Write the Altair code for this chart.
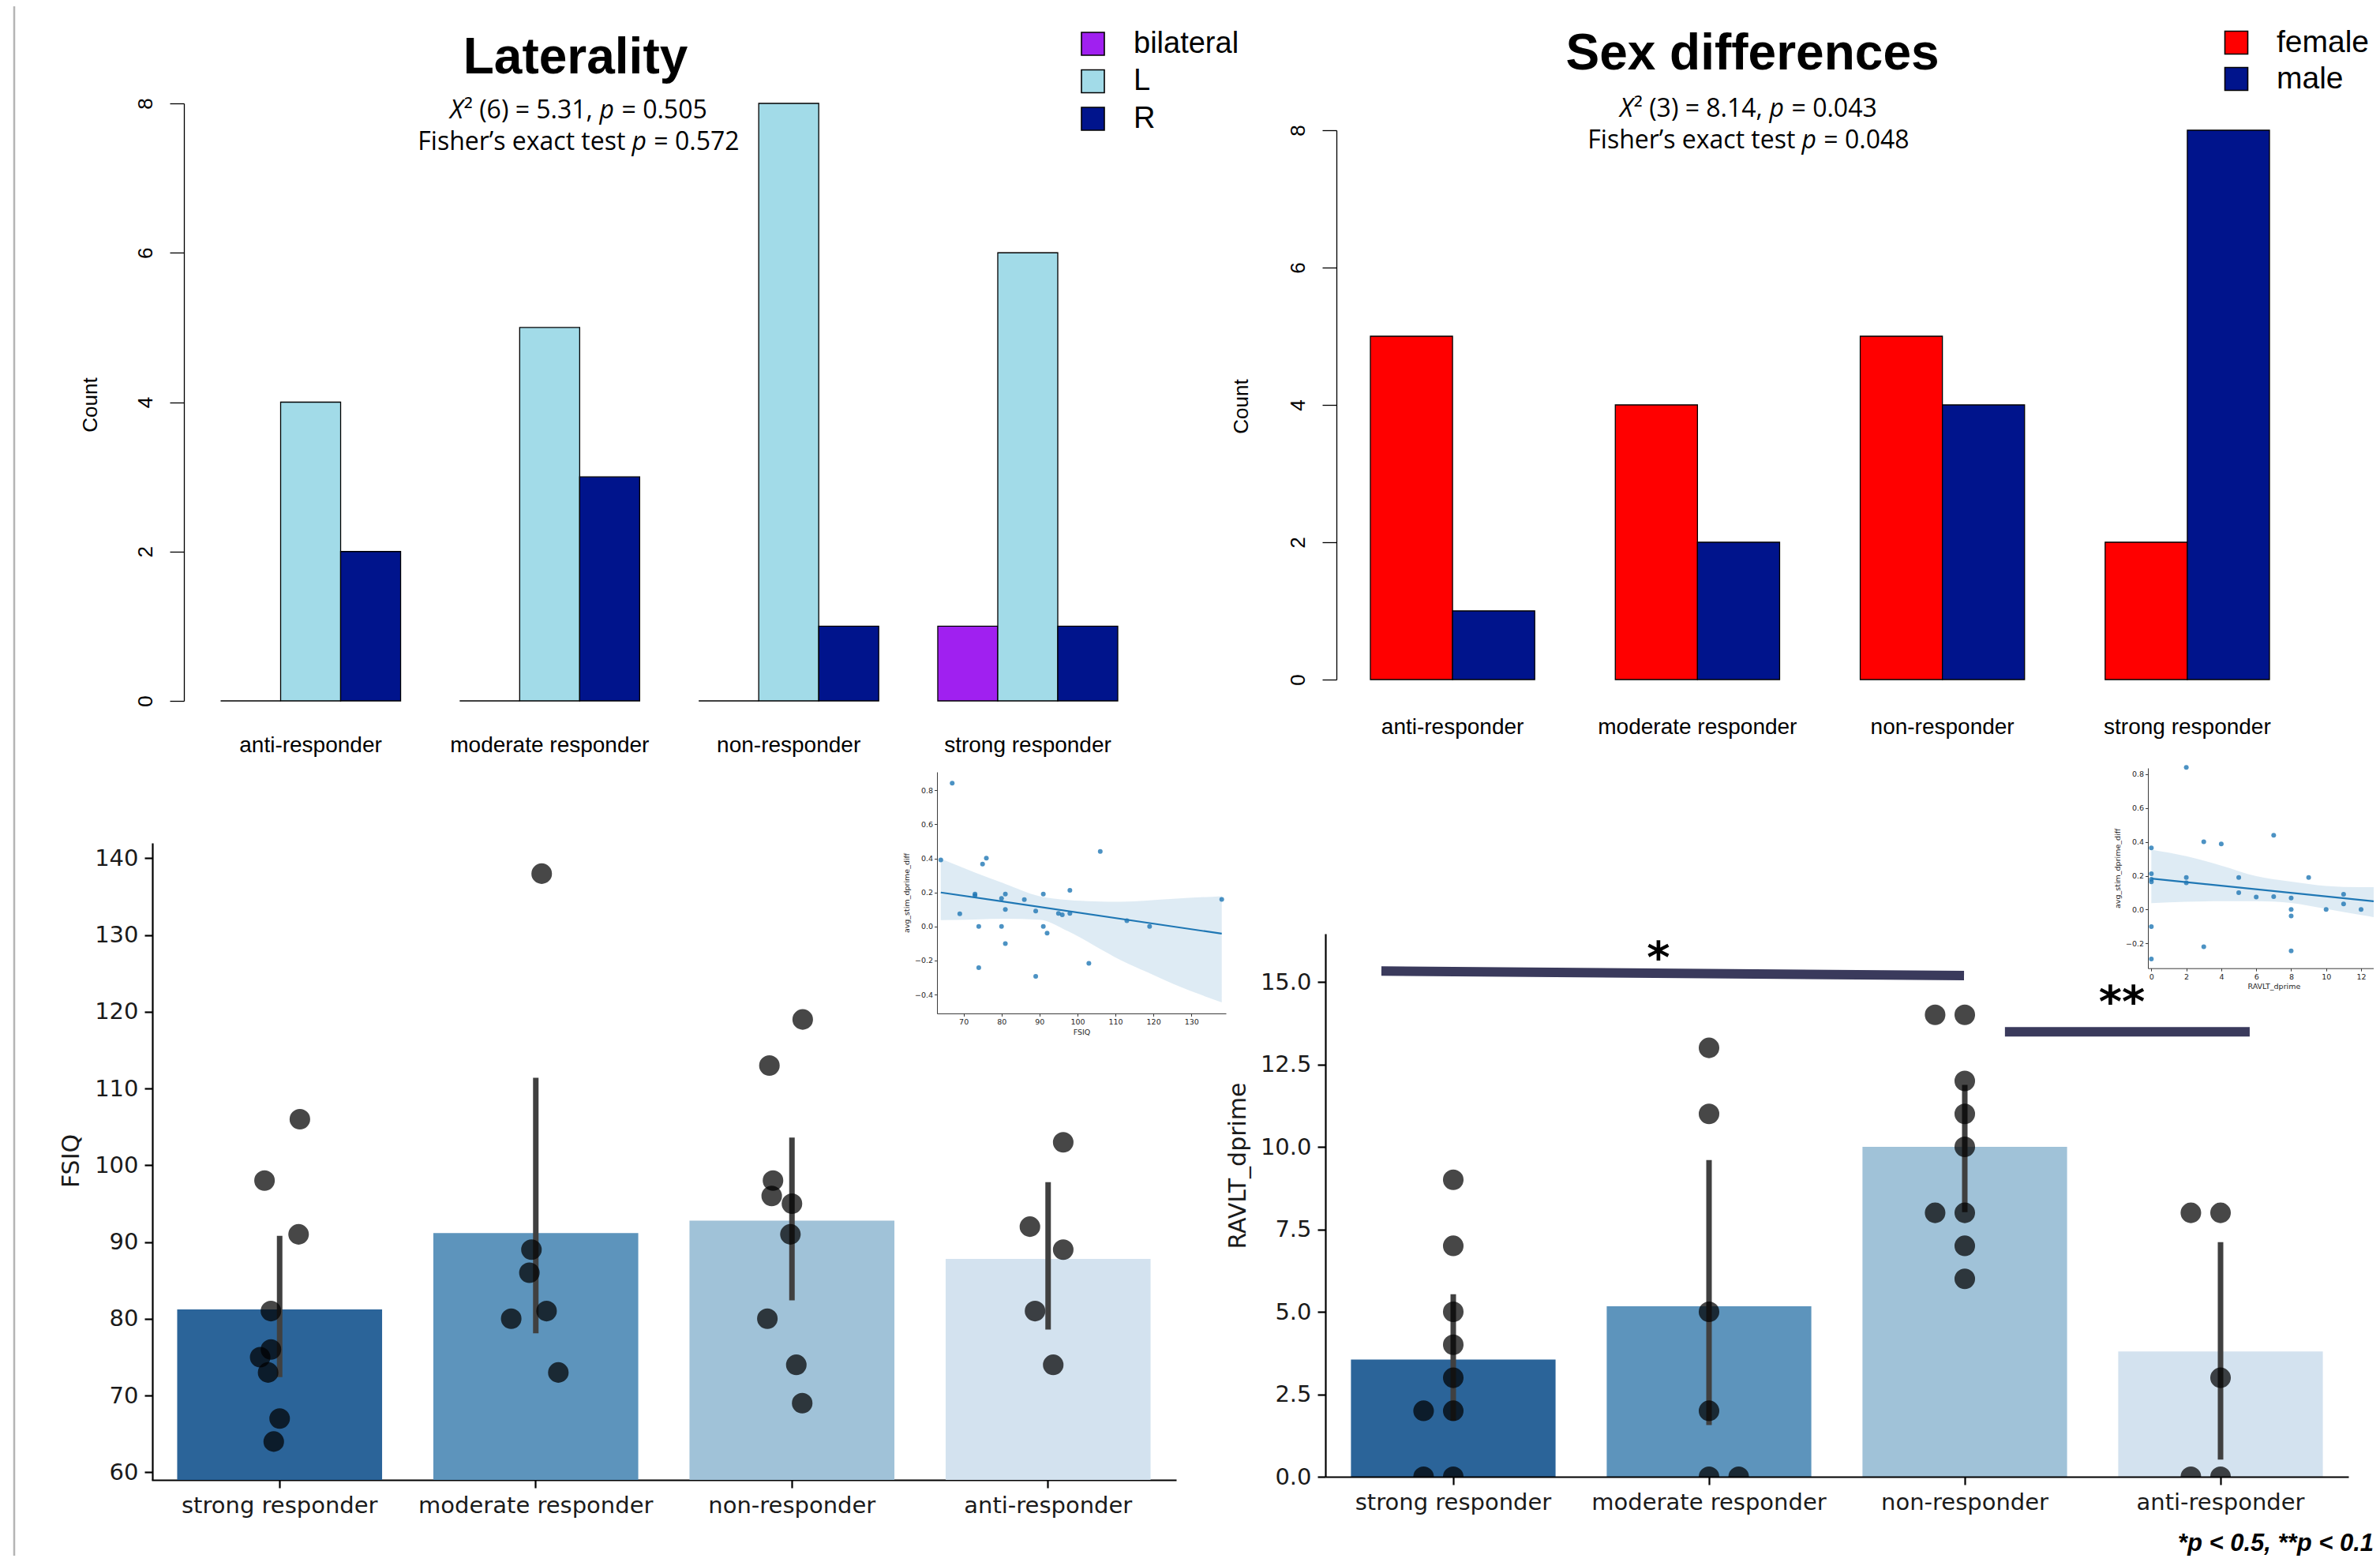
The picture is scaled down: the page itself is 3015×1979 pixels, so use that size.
import altair as alt
import pandas as pd

# ---------------- data ----------------
resp_top = ["anti-responder", "moderate responder", "non-responder", "strong responder"]
lat_sides = ["bilateral", "L", "R"]
lat_colors = ["#A020F0", "#A2DBE8", "#00148C"]
lat_bilateral = [0, 0, 0, 1]
lat_L = [4, 5, 8, 6]
lat_R = [2, 3, 1, 1]

sex_levels = ["female", "male"]
sex_colors = ["#FF0000", "#00148C"]
sex_female = [5, 4, 5, 2]
sex_male = [1, 2, 4, 8]

resp_bottom = ["strong responder", "moderate responder", "non-responder", "anti-responder"]
blues = ["#2b6499", "#5d94bc", "#a0c2d8", "#d3e2ef"]

fsiq_vals = [
    [106, 98, 91, 81, 76, 75, 73, 67, 64],
    [138, 89, 86, 81, 80, 73],
    [119, 113, 98, 96, 95, 91, 80, 74, 69],
    [103, 92, 89, 81, 74],
]
fsiq_jitter = [
    [0.079, -0.059, 0.074, -0.034, -0.034, -0.076, -0.045, 0.0, -0.023],
    [0.023, -0.017, -0.025, 0.042, -0.096, 0.088],
    [0.042, -0.088, -0.074, -0.079, 0.0, -0.006, -0.096, 0.017, 0.04],
    [0.059, -0.071, 0.059, -0.051, 0.02],
]
fsiq_ci_low = [72.4, 78.1, 82.4, 78.6]
fsiq_ci_high = [90.8, 111.4, 103.6, 97.8]

ravlt_vals = [
    [9, 7, 5, 4, 3, 2, 2, 0, 0],
    [13, 11, 5, 2, 0, 0],
    [14, 14, 12, 11, 10, 8, 8, 7, 6],
    [8, 8, 3, 0, 0],
]
ravlt_jitter = [
    [0, 0, 0, 0, 0, -0.116, 0, -0.116, 0],
    [0, 0, 0, 0, 0, 0.116],
    [-0.116, 0, 0, 0, 0, -0.116, 0, 0, 0],
    [-0.116, 0, 0, -0.116, 0],
]
ravlt_ci_low = [1.7, 1.57, 8.02, 0.52]
ravlt_ci_high = [5.53, 9.6, 11.88, 7.11]

sig_bar = ["a", "a", "b", "b"]
sig_x = [-0.281, 1.997, 2.157, 3.114]
sig_y = [15.33, 15.19, 13.49, 13.49]
star_text = ["*", "**"]
star_x = [0.802, 2.614]
star_y = [16.0, 14.67]

inset_fsiq = [67, 64, 76, 75, 106, 98, 73, 73, 81, 80, 86, 91, 138, 69, 81, 89, 95, 96, 98,
              113, 119, 74, 80, 91, 92, 81, 103, 74, 89]
inset_fsiq_diff = [0.842, 0.391, 0.401, 0.367, 0.441, 0.212, 0.190, 0.181, 0.190, 0.165, 0.158,
                   0.190, 0.159, 0.074, 0.100, 0.091, 0.077, 0.069, 0.077, 0.034, 0.0, 0.0, 0.0,
                   0.0, -0.039, -0.101, -0.217, -0.242, -0.293]
band1_x = [64, 73, 81, 90, 97.5, 104.5, 111.4, 118.3, 125.3, 138]
band1_hi = [0.398, 0.317, 0.25, 0.178, 0.156, 0.148, 0.145, 0.152, 0.162, 0.178]
band1_lo = [0.037, 0.041, 0.045, 0.04, -0.028, -0.113, -0.198, -0.268, -0.338, -0.446]

inset_ravlt = [0, 0, 0, 0, 0, 0, 2, 2, 2, 3, 3, 4, 5, 5, 6, 7, 7, 8, 8, 8, 8, 9, 10, 11, 11,
               12, 13, 14, 14]
inset_ravlt_diff = [0.364, 0.212, 0.179, 0.164, -0.100, -0.292, 0.839, 0.189, 0.158, 0.40,
                    -0.219, 0.388, 0.189, 0.100, 0.074, 0.439, 0.077, 0.069, 0.001, -0.038,
                    -0.244, 0.189, 0.001, 0.091, 0.033, 0.001, 0.161, 0.0, 0.077]
band2_x = [0, 2, 4, 6, 8, 10, 12, 14]
band2_hi = [0.354, 0.315, 0.26, 0.198, 0.165, 0.14, 0.133, 0.133]
band2_lo = [0.038, 0.046, 0.05, 0.05, 0.039, 0.004, -0.032, -0.065]

# ---------------- layout helpers ----------------
O = 8
W = 3015 - 2 * O
H = 1979 - 2 * O


def P(v):
    return v - O


def text_layer(s, x, y, size, font, weight="normal", style="normal", align="center",
               baseline="alphabetic", angle=0, color="black", dy=0):
    return alt.Chart(pd.DataFrame({"t": [s]})).mark_text(
        align=align, baseline=baseline, font=font, fontSize=size, fontWeight=weight,
        fontStyle=style, angle=angle, color=color, dy=dy
    ).encode(x=alt.value(P(x)), y=alt.value(P(y)), text="t:N")


OS_W = {" ": 0.26, "(": 0.295, ")": 0.295, ",": 0.245, ".": 0.266, "=": 0.572, "²": 0.37,
        "X": 0.55, "p": 0.613, "F": 0.545, "i": 0.253, "s": 0.467, "h": 0.614, "e": 0.561,
        "r": 0.408, "’": 0.177, "x": 0.52, "a": 0.556, "c": 0.476, "t": 0.353}
for d in "0123456789":
    OS_W[d] = 0.572


def seg_w(s):
    return sum(OS_W.get(c, 0.55) for c in s)


def stat_line(segs, cx, y, size=32):
    total = sum(seg_w(s) for s, _ in segs) * size
    x = cx - total / 2
    out = []
    for s, it in segs:
        lead = len(s) - len(s.lstrip(" "))
        out.append(text_layer(s.strip(), x + lead * OS_W[" "] * size, y, size, "Open Sans",
                              style="italic" if it else "normal", align="left"))
        x += seg_w(s) * size
    return out


def left_axis(x_full, title=None, **kw):
    return alt.Axis(orient="left", offset=-P(x_full), grid=False, title=title,
                    labelFlush=False, labelOverlap=False, **kw)


def bottom_axis(y_full, title=None, **kw):
    return alt.Axis(orient="bottom", offset=P(y_full) - H, grid=False, title=title,
                    labelFlush=False, labelOverlap=False, **kw)


r_y = dict(values=[0, 2, 4, 6, 8], tickSize=18, tickWidth=1.3, tickColor="black",
           domainColor="black", domainWidth=1.3, labelAngle=270, labelAlign="center",
           labelBaseline="alphabetic", labelPadding=23, labelFont="Liberation Sans",
           labelFontSize=26, labelColor="black")
r_x = dict(domain=False, ticks=False, tickSize=0, labelAngle=0, labelBaseline="middle",
           labelFont="Liberation Sans", labelFontSize=28, labelColor="black", labelLimit=0)
mpl = dict(domainColor="black", domainWidth=2.2, tickColor="black", tickWidth=2.2,
           tickSize=10, labelFont="DejaVu Sans", labelFontSize=29, labelColor="#1a1a1a",
           labelLimit=0)
ins = dict(domainColor="#262626", domainWidth=0.9, tickColor="#262626", tickWidth=0.9,
           tickSize=3.5, labelFont="DejaVu Sans", labelFontSize=9.5, labelColor="#262626",
           labelPadding=2)

layers = []

# left border line
layers.append(alt.Chart(pd.DataFrame({"a": [0]})).mark_rule(color="#b5b5b5", strokeWidth=2.5)
              .encode(x=alt.value(P(18)), y=alt.value(0), y2=alt.value(H)))

# ---------------- Laterality (top left) ----------------
tl_df = pd.DataFrame({"resp": resp_top * 3,
                      "side": ["bilateral"] * 4 + ["L"] * 4 + ["R"] * 4,
                      "n": lat_bilateral + lat_L + lat_R})
layers.append(alt.Chart(tl_df).mark_bar(stroke="black", strokeWidth=1.3).encode(
    x=alt.X("resp:N", sort=resp_top,
            scale=alt.Scale(domain=resp_top, range=[P(279.5), P(1416)], paddingInner=0.247,
                            paddingOuter=0),
            axis=bottom_axis(888, labelPadding=56, **r_x)),
    xOffset=alt.XOffset("side:N", sort=lat_sides,
                        scale=alt.Scale(domain=lat_sides, paddingInner=0, paddingOuter=0)),
    y=alt.Y("n:Q", scale=alt.Scale(domain=[0, 8], range=[P(888), P(131)]),
            axis=left_axis(233, **r_y)),
    color=alt.Color("side:N", scale=alt.Scale(domain=lat_sides, range=lat_colors), legend=None),
))
layers.append(text_layer("Count", 115, 513, 26, "Liberation Sans", angle=270, baseline="middle"))
layers.append(text_layer("Laterality", 729, 93, 64, "Liberation Sans", weight="bold"))
layers += stat_line([("X", True), ("² (6) = 5.31, ", False), ("p", True), (" = 0.505", False)], 733, 150)
layers += stat_line([("Fisher’s exact test ", False), ("p", True), (" = 0.572", False)], 733, 190)
leg1 = pd.DataFrame({"side": lat_sides})
leg1_y = alt.Scale(domain=lat_sides, range=[P(55.5), P(150.5)], padding=0)
layers.append(alt.Chart(leg1).mark_square(size=841, stroke="black", strokeWidth=1.6, opacity=1).encode(
    x=alt.value(P(1384.5)), y=alt.Y("side:N", scale=leg1_y, axis=None),
    color=alt.Color("side:N", scale=alt.Scale(domain=lat_sides, range=lat_colors), legend=None)))
layers.append(alt.Chart(leg1).mark_text(align="left", baseline="middle", font="Liberation Sans",
                                        fontSize=38, color="black").encode(
    x=alt.value(P(1436)), y=alt.Y("side:N", scale=leg1_y, axis=None), text="side:N"))

# ---------------- Sex differences (top right) ----------------
tr_df = pd.DataFrame({"resp": resp_top * 2, "sex": ["female"] * 4 + ["male"] * 4,
                      "n": sex_female + sex_male})
layers.append(alt.Chart(tr_df).mark_bar(stroke="black", strokeWidth=1.3).encode(
    x=alt.X("resp:N", sort=resp_top,
            scale=alt.Scale(domain=resp_top, range=[P(1736), P(2875)], paddingInner=0.329,
                            paddingOuter=0),
            axis=bottom_axis(861, labelPadding=60, **r_x)),
    xOffset=alt.XOffset("sex:N", sort=sex_levels,
                        scale=alt.Scale(domain=sex_levels, paddingInner=0, paddingOuter=0)),
    y=alt.Y("n:Q", scale=alt.Scale(domain=[0, 8], range=[P(861), P(165)]),
            axis=left_axis(1693, **r_y)),
    color=alt.Color("sex:N", scale=alt.Scale(domain=sex_levels, range=sex_colors), legend=None),
))
layers.append(text_layer("Count", 1573, 515, 26, "Liberation Sans", angle=270, baseline="middle"))
layers.append(text_layer("Sex differences", 2220, 88, 64, "Liberation Sans", weight="bold"))
layers += stat_line([("X", True), ("² (3) = 8.14, ", False), ("p", True), (" = 0.043", False)], 2215, 148)
layers += stat_line([("Fisher’s exact test ", False), ("p", True), (" = 0.048", False)], 2215, 188)
leg2 = pd.DataFrame({"sex": sex_levels})
leg2_y = alt.Scale(domain=sex_levels, range=[P(54), P(100)], padding=0)
layers.append(alt.Chart(leg2).mark_square(size=841, stroke="black", strokeWidth=1.6, opacity=1).encode(
    x=alt.value(P(2833)), y=alt.Y("sex:N", scale=leg2_y, axis=None),
    color=alt.Color("sex:N", scale=alt.Scale(domain=sex_levels, range=sex_colors), legend=None)))
layers.append(alt.Chart(leg2).mark_text(align="left", baseline="middle", font="Liberation Sans",
                                        fontSize=39, color="black").encode(
    x=alt.value(P(2884)), y=alt.Y("sex:N", scale=leg2_y, axis=None), text="sex:N"))


# ---------------- bottom panels ----------------
def long_df(vals, jit):
    rows = []
    for gi, (vs, js) in enumerate(zip(vals, jit)):
        for v, j in zip(vs, js):
            rows.append({"grp": resp_bottom[gi], "v": v, "xq": gi + j})
    return pd.DataFrame(rows)


def bottom_panel(df, lo, hi, x0, x1, ybot, ytop, dom, yvals, fmt, axis_y_full, axis_x_full,
                 base, zfront=False):
    xb = alt.Scale(domain=resp_bottom, range=[P(x0), P(x1)], paddingInner=0.2, paddingOuter=0.1)
    xq = alt.Scale(domain=[-0.5, 3.5], range=[P(x0), P(x1)])
    ys = alt.Scale(domain=dom, range=[P(ybot), P(ytop)])
    out = []
    xax_kw = dict(labelPadding=22, labelBaseline="middle", labelAngle=0, **mpl)
    yax_kw = dict(values=yvals, labelPadding=8, **mpl)
    if fmt:
        yax_kw["format"] = fmt
    if zfront:
        xax_kw["zindex"] = 1
        yax_kw["zindex"] = 1
    out.append(alt.Chart(df).mark_bar().encode(
        x=alt.X("grp:N", sort=resp_bottom, scale=xb, axis=bottom_axis(axis_x_full, **xax_kw)),
        y=alt.Y("mean(v):Q", scale=ys, axis=left_axis(axis_y_full, **yax_kw)),
        y2=alt.datum(base),
        color=alt.Color("grp:N", scale=alt.Scale(domain=resp_bottom, range=blues), legend=None),
    ))
    ci = pd.DataFrame({"xq": [0, 1, 2, 3], "lo": lo, "hi": hi})
    out.append(alt.Chart(ci).mark_rule(color="#404040", strokeWidth=7).encode(
        x=alt.X("xq:Q", scale=xq, axis=None),
        y=alt.Y("lo:Q", scale=ys, axis=None), y2="hi:Q"))
    out.append(alt.Chart(df).mark_circle(size=680, color="black", opacity=0.72).encode(
        x=alt.X("xq:Q", scale=xq, axis=None),
        y=alt.Y("v:Q", scale=ys, axis=None)))
    return out, xq, ys


fsiq_df = long_df(fsiq_vals, fsiq_jitter)
bl, _, _ = bottom_panel(fsiq_df, fsiq_ci_low, fsiq_ci_high, 192, 1490, 1875, 1068,
                        [59, 142], list(range(60, 141, 10)), None, 193, 1875, 59)
layers += bl
layers.append(text_layer("FSIQ", 91, 1471, 30, "DejaVu Sans", angle=270, baseline="middle",
                         color="#1a1a1a"))


# ---------------- insets ----------------
def inset(xv, yv, bx, bhi, blo, xdom, xr, ydom, yr, xvals, xtitle, ax_x_full, ax_y_full):
    xs = alt.Scale(domain=xdom, range=[P(xr[0]), P(xr[1])])
    ys = alt.Scale(domain=ydom, range=[P(yr[0]), P(yr[1])])
    pts = pd.DataFrame({"x": xv, "y": yv})
    band = pd.DataFrame({"x": bx, "hi": bhi, "lo": blo})
    out = [
        alt.Chart(band).mark_area(color="#1f77b4", opacity=0.15, interpolate="monotone").encode(
            x=alt.X("x:Q", scale=xs, axis=None), y=alt.Y("hi:Q", scale=ys, axis=None), y2="lo:Q"),
        alt.Chart(pts).mark_circle(size=36, color="#1f77b4", opacity=0.8).encode(
            x=alt.X("x:Q", scale=xs,
                    axis=bottom_axis(ax_x_full, title=xtitle, values=xvals, titleFont="DejaVu Sans",
                                     titleFontSize=9.5, titleFontWeight="normal",
                                     titleColor="#262626", titlePadding=3, **ins)),
            y=alt.Y("y:Q", scale=ys,
                    axis=left_axis(ax_y_full, title="avg_stim_dprime_diff",
                                   values=[-0.4, -0.2, 0.0, 0.2, 0.4, 0.6, 0.8],
                                   format=".1f", titleFont="DejaVu Sans", titleFontSize=9.5,
                                   titleFontWeight="normal", titleColor="#262626",
                                   titlePadding=5, **ins))),
        alt.Chart(pts).transform_regression("x", "y").mark_line(color="#1f77b4", strokeWidth=2.2)
        .encode(x=alt.X("x:Q", scale=xs, axis=None), y=alt.Y("y:Q", scale=ys, axis=None)),
    ]
    return out


layers += inset(inset_fsiq, inset_fsiq_diff, band1_x, band1_hi, band1_lo, [63.0, 139.1],
                [1187, 1553], [-0.511, 0.908], [1284, 978], list(range(70, 131, 10)), "FSIQ",
                1284, 1187)

ravlt_df = long_df(ravlt_vals, ravlt_jitter)
br, br_xq, br_y = bottom_panel(ravlt_df, ravlt_ci_low, ravlt_ci_high, 1679, 2975, 1871, 1183,
                               [0, 16.46], [0, 2.5, 5, 7.5, 10, 12.5, 15], ".1f", 1679, 1871, 0,
                               zfront=True)
layers += br
layers.append(alt.Chart(pd.DataFrame({"a": [0]})).mark_rect(color="white").encode(
    x=alt.value(P(1681)), x2=alt.value(P(2975)), y=alt.value(P(1872)), y2=alt.value(P(1888))))
layers.append(text_layer("RAVLT_dprime", 1569, 1477, 30, "DejaVu Sans", angle=270,
                         baseline="middle", color="#1a1a1a"))

# inset 2 runs past the right edge of the figure, as in the reference; its last
# visible tick is 12
layers += inset(inset_ravlt, inset_ravlt_diff, band2_x, band2_hi, band2_lo, [-0.196, 14.2],
                [2721, 2721 + 14.396 * 22.14], [-0.346, 0.836], [1226.7, 973],
                list(range(0, 13, 2)), "RAVLT_dprime", 1226.7, 2721)

sig_df = pd.DataFrame({"bar": sig_bar, "x": sig_x, "y": sig_y})
layers.append(alt.Chart(sig_df).mark_line(color="#3a3a5c", strokeWidth=12, strokeCap="butt").encode(
    x=alt.X("x:Q", scale=br_xq, axis=None), y=alt.Y("y:Q", scale=br_y, axis=None),
    detail="bar:N"))
star_df = pd.DataFrame({"s": star_text, "x": star_x, "y": star_y})
layers.append(alt.Chart(star_df).mark_text(font="DejaVu Sans", fontWeight="bold", fontSize=56,
                                           baseline="middle", dy=13, color="black").encode(
    x=alt.X("x:Q", scale=br_xq, axis=None), y=alt.Y("y:Q", scale=br_y, axis=None), text="s:N"))

layers.append(text_layer("*p < 0.5, **p < 0.1", 3007, 1965, 31, "Liberation Sans",
                         weight="bold", style="italic", align="right"))

chart = alt.layer(*layers).resolve_scale(
    x="independent", y="independent", color="independent", xOffset="independent"
).properties(
    width=W, height=H, autosize=alt.AutoSizeParams(type="none"), padding=0, background="white"
).configure_view(stroke=None)

chart.save("out.html", embed_options={"renderer": "svg", "actions": False})
